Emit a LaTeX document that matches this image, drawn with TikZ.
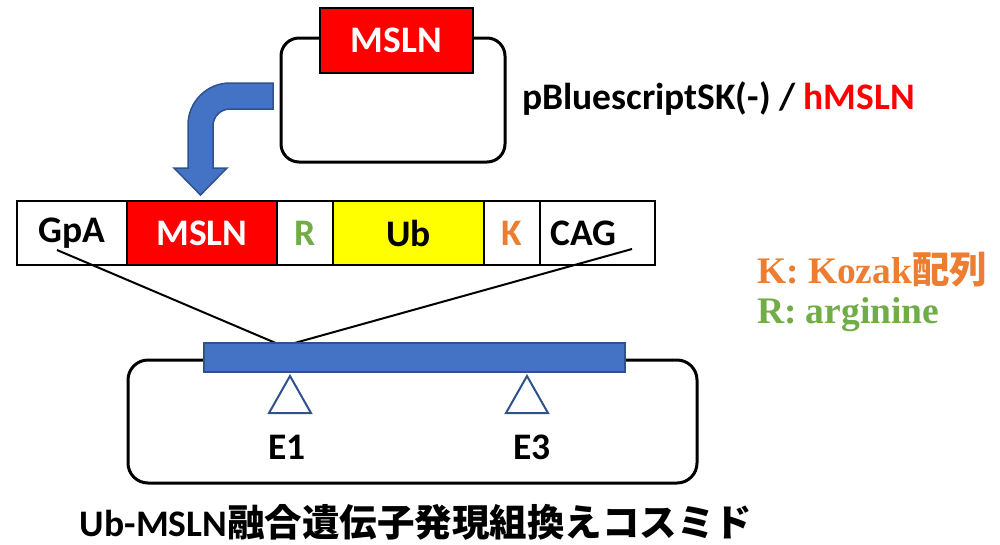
\documentclass[tikz,border=0pt]{standalone}
\usepackage{fontspec}
\setmainfont{Carlito}
\newfontfamily\cjk{Noto Sans CJK JP}
\newfontfamily\serifb{Liberation Serif}
\definecolor{mred}{HTML}{FF0000}
\definecolor{myel}{HTML}{FFFF00}
\definecolor{mblue}{HTML}{4472C4}
\definecolor{mblued}{HTML}{2F528F}
\definecolor{morange}{HTML}{ED7D31}
\definecolor{mgreen}{HTML}{70AD47}
\begin{document}
\begin{tikzpicture}[x=1pt,y=-1pt,
  every node/.style={inner sep=0pt, outer sep=0pt},
  lbl/.style={font=\fontsize{37.5}{42}\selectfont\bfseries},
  genebox/.style={draw=black, line width=1.2pt, minimum height=64pt, anchor=north west, lbl},
  plasmid/.style={draw=black, line width=3pt, rounded corners=18pt},
  site/.style={draw=mblued, line width=2pt, fill=white},
  conn/.style={draw=black, line width=2pt}]
\useasboundingbox (0,0) rectangle (1000,544);

% top plasmid
\draw[plasmid] (281,38) rectangle (505,162);
\node[draw=black, line width=1.5pt, fill=mred, minimum width=153pt, minimum height=65pt, anchor=north west, lbl, text=white] (topmsln) at (320,8) {MSLN};
\node[lbl, anchor=west] (ptext) at (522,99) {pBluescriptSK(-) / \textcolor{mred}{hMSLN}};

% bent arrow
\draw[fill=mblue, draw=mblued, line width=1.5pt]
  (273,83) -- (230,83) arc[start angle=270, end angle=180, radius=42] -- (188,168) -- (174,168) -- (200.5,195) -- (227,168) -- (213,168) -- (213,126) arc[start angle=180, end angle=270, radius=17] -- (273,109) -- cycle;

% gene row
\node[genebox, minimum width=110pt] (gpa) at (17,201) {GpA};
\node[genebox, minimum width=150pt, fill=mred, text=white] (msln) at (127,201) {MSLN};
\node[genebox, minimum width=56pt, text=mgreen] (r) at (277,201) {R};
\node[genebox, minimum width=151pt, fill=myel] (ub) at (333,201) {Ub};
\node[genebox, minimum width=56pt, text=morange] (k) at (484,201) {K};
\node[genebox, minimum width=115pt] (cag) at (540,201) {};
\node[lbl] (cagt) at ([xshift=-14pt]cag.center) {CAG};

% bottom cosmid
\draw[plasmid, rounded corners=20pt] (128,360) rectangle (697,483);
\coordinate (gpaend) at (57,250);
\coordinate (cagend) at (632,249);
\coordinate (barL) at (278,344);
\coordinate (barR) at (291,344);
\draw[conn] (gpaend) -- (barL);
\draw[conn] (cagend) -- (barR);
\node[draw=mblued, line width=1.5pt, fill=mblue, minimum width=421pt, minimum height=29pt, anchor=north west] (bar) at (204,343) {};

\draw[site] (290,376) -- (311,413) -- (269,413) -- cycle;
\draw[site] (527,376) -- (548,413) -- (506,413) -- cycle;
\node[lbl] (e1) at (287,447) {E1};
\node[lbl] (e3) at (532,447) {E3};

% legend
\node[anchor=west, text=morange, font=\fontsize{37.5}{42}\selectfont] (legk) at (757,270) {\serifb\bfseries K: Kozak{\cjk 配列}};
\node[anchor=west, text=mgreen, font=\fontsize{37.5}{42}\selectfont] (legr) at (757,315) {\serifb\bfseries R: arginine};

% title
\node[lbl] (title) at (416,522) {Ub-MSLN{\cjk\bfseries 融合遺伝子発現組換えコスミド}};
\end{tikzpicture}
\end{document}
